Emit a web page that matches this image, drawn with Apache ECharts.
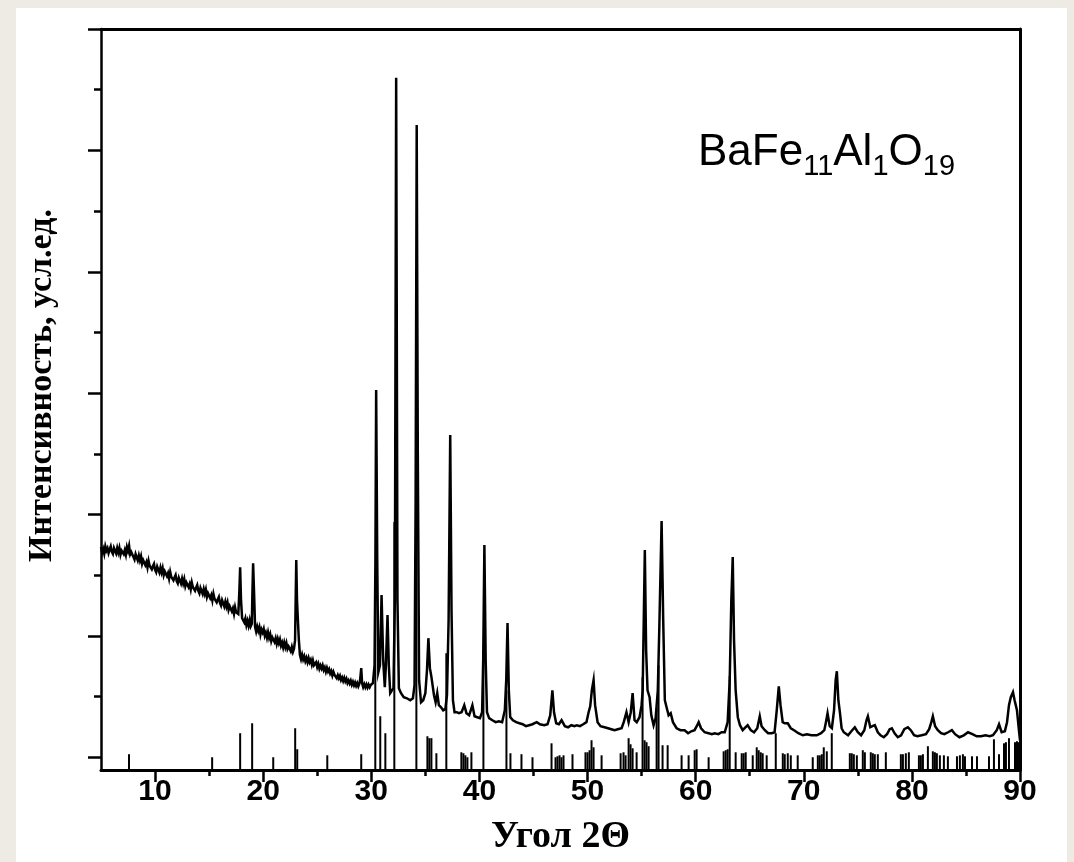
<!DOCTYPE html>
<html>
<head>
<meta charset="utf-8">
<script src="https://cdn.jsdelivr.net/npm/echarts@6/dist/echarts.min.js"></script>
<style>
html,body{margin:0;padding:0;background:#eeebe4;}
#panel{position:absolute;left:16px;top:8px;width:1051px;height:854px;background:#ffffff;}
#c{position:absolute;left:0;top:0;width:1074px;height:862px;}
</style>
</head>
<body>
<div id="panel"></div>
<div id="c"></div>
<script>
// ---------- data (arbitrary intensity units, one major y tick = 1000) ----------
const X_MIN = 5, X_MAX = 90;
const Y_MIN = -105, Y_MAX = 6000;

const xMajorTicks = [10, 20, 30, 40, 50, 60, 70, 80, 90];
const xMinorTicks = [15, 25, 35, 45, 55, 65, 75, 85];
const yMajorTicks = [0, 1000, 2000, 3000, 4000, 5000, 6000];
const yMinorTicks = [500, 1500, 2500, 3500, 4500, 5500];

// measured pattern, 5–30° (noisy amorphous background)
const scanLow = [
[5.0,1732],[5.1,1687],[5.2,1717],[5.3,1677],[5.4,1737],[5.5,1702],[5.6,1722],[5.7,1682],[5.8,1712],[5.9,1737],
[6.0,1692],[6.1,1675],[6.2,1724],[6.3,1702],[6.4,1680],[6.5,1724],[6.6,1687],[6.7,1725],[6.8,1669],[6.9,1702],
[7.0,1715],[7.1,1673],[7.2,1706],[7.3,1668],[7.4,1731],[7.5,1699],[7.6,1742],[7.7,1672],[7.8,1691],[7.9,1706],
[8.0,1650],[8.1,1629],[8.2,1674],[8.3,1648],[8.4,1622],[8.5,1662],[8.6,1621],[8.7,1655],[8.8,1594],[8.9,1624],
[9.0,1633],[9.1,1583],[9.2,1608],[9.3,1563],[9.4,1618],[9.5,1578],[9.6,1593],[9.7,1548],[9.8,1573],[9.9,1593],
[10.0,1543],[10.1,1524],[10.2,1570],[10.3,1546],[10.4,1522],[10.5,1563],[10.6,1523],[10.7,1559],[10.8,1500],[10.9,1531],
[11.0,1542],[11.1,1492],[11.2,1517],[11.3,1472],[11.4,1527],[11.5,1487],[11.6,1502],[11.7,1457],[11.8,1482],[11.9,1502],
[12.0,1452],[12.1,1433],[12.2,1479],[12.3,1455],[12.4,1431],[12.5,1472],[12.6,1432],[12.7,1468],[12.8,1409],[12.9,1440],
[13.0,1451],[13.1,1402],[13.2,1428],[13.3,1384],[13.4,1440],[13.5,1401],[13.6,1416],[13.7,1372],[13.8,1398],[13.9,1419],
[14.0,1370],[14.1,1350],[14.2,1395],[14.3,1370],[14.4,1345],[14.5,1386],[14.6,1346],[14.7,1381],[14.8,1321],[14.9,1351],
[15.0,1361],[15.1,1311],[15.2,1336],[15.3,1291],[15.4,1346],[15.5,1306],[15.6,1321],[15.7,1276],[15.8,1301],[15.9,1321],
[16.0,1271],[16.1,1250],[16.2,1294],[16.3,1269],[16.4,1243],[16.5,1282],[16.6,1241],[16.7,1275],[16.8,1215],[16.9,1244],
[17.0,1253],[17.1,1202],[17.2,1227],[17.3,1181],[17.4,1236],[17.5,1195],[17.6,1210],[17.7,1180],[17.8,1377],[17.87,1566],
[17.95,1294],[18.05,1146],[18.15,1147],[18.25,1112],[18.35,1143],[18.45,1088],[18.55,1123],[18.65,1084],[18.75,1129],[18.85,1080],
[18.95,1100],[19.0,1336],[19.07,1599],[19.15,1377],[19.25,1075],[19.35,1036],[19.45,1076],[19.55,1041],[19.65,1072],[19.75,1012],
[19.85,1052],[19.95,1028],[20.05,1057],[20.15,1001],[20.25,1026],[20.35,985],[20.45,1029],[20.55,984],[20.65,1013],[20.75,957],
[20.85,987],[20.95,1001],[21.05,950],[21.15,980],[21.25,935],[21.35,975],[21.45,940],[21.55,970],[21.65,920],[21.75,945],
[21.85,905],[21.95,945],[22.05,906],[22.15,941],[22.25,892],[22.35,912],[22.45,923],[22.55,873],[22.65,909],[22.75,869],
[22.85,895],[22.95,965],[23.06,1624],[23.13,1294],[23.2,1154],[23.3,965],[23.4,843],[23.5,809],[23.6,845],[23.7,806],
[23.8,832],[23.9,792],[24.0,818],[24.1,783],[24.2,818],[24.3,783],[24.4,803],[24.5,763],[24.6,798],[24.7,758],
[24.8,773],[24.9,783],[25.0,743],[25.1,769],[25.2,730],[25.3,756],[25.4,732],[25.5,758],[25.6,719],[25.7,740],
[25.8,705],[25.9,736],[26.0,707],[26.1,726],[26.2,690],[26.3,710],[26.4,674],[26.5,703],[26.6,678],[26.7,692],
[26.8,651],[26.9,676],[27.0,650],[27.1,671],[27.2,637],[27.3,657],[27.4,628],[27.5,654],[27.6,625],[27.7,646],
[27.8,612],[27.9,632],[28.0,608],[28.1,631],[28.2,598],[28.3,621],[28.4,593],[28.5,616],[28.6,589],[28.7,611],
[28.8,584],[28.9,606],[28.97,640],[29.07,734],[29.15,610],[29.25,578],[29.35,602],[29.45,576],[29.55,600],[29.65,574],
[29.75,598],[29.85,577],[29.95,596]
];

// measured pattern, 30–60°
const scanMid = [
[30.15,610],[30.3,758],[30.38,1624],[30.45,3026],[30.55,1624],[30.65,701],[30.8,758],[30.95,1336],[31.1,800],[31.25,577],
[31.35,758],[31.5,1171],[31.62,758],[31.75,528],[31.9,536],[32.05,569],[32.18,1294],[32.3,5598],[32.42,1294],[32.55,569],
[32.75,528],[33.0,495],[33.3,486],[33.6,470],[33.85,486],[34.0,594],[34.1,2119],[34.2,5210],[34.3,2531],[34.42,635],
[34.6,453],[34.8,470],[35.0,528],[35.15,717],[35.28,981],[35.42,734],[35.55,668],[35.65,676],[35.8,511],[35.95,453],
[36.1,528],[36.25,429],[36.45,412],[36.65,387],[36.85,396],[37.0,511],[37.15,1129],[37.3,2655],[37.42,1212],[37.55,470],
[37.7,371],[37.9,371],[38.1,363],[38.35,371],[38.6,429],[38.8,363],[39.05,346],[39.2,387],[39.35,429],[39.55,338],
[39.8,330],[40.05,322],[40.25,371],[40.35,800],[40.46,1748],[40.58,800],[40.7,371],[40.9,322],[41.2,305],[41.5,289],
[41.8,297],[42.1,289],[42.35,387],[42.48,635],[42.6,1105],[42.72,552],[42.85,330],[43.1,305],[43.4,289],[43.7,280],
[44.0,272],[44.3,256],[44.6,264],[44.9,272],[45.3,289],[45.6,272],[46.0,264],[46.3,272],[46.55,346],[46.75,552],
[46.9,371],[47.1,280],[47.35,272],[47.6,305],[47.9,256],[48.2,247],[48.5,264],[48.8,256],[49.0,264],[49.3,256],
[49.6,272],[49.9,289],[50.1,371],[50.25,420],[50.4,552],[50.56,635],[50.7,429],[50.93,289],[51.2,256],[51.57,247],
[51.9,239],[52.2,231],[52.5,223],[52.8,231],[53.15,239],[53.35,289],[53.6,371],[53.8,289],[54.0,371],[54.17,528],
[54.35,305],[54.55,289],[54.81,330],[55.0,429],[55.1,552],[55.2,1129],[55.3,1707],[55.42,882],[55.55,552],[55.74,495],
[55.9,346],[56.11,264],[56.3,322],[56.5,552],[56.65,1105],[56.85,1946],[57.0,1129],[57.15,470],[57.31,412],[57.5,346],
[57.69,363],[57.9,289],[58.24,239],[58.6,223],[58.98,223],[59.3,198],[59.6,214],[59.9,223]
];

// measured pattern, 60–90°
const scanHigh = [
[60.1,256],[60.28,289],[60.5,239],[60.83,206],[61.2,198],[61.5,190],[61.76,198],[62.1,190],[62.4,206],[62.69,206],
[62.96,289],[63.15,635],[63.3,1294],[63.43,1649],[63.55,965],[63.7,552],[63.9,330],[64.1,264],[64.35,223],[64.6,247],
[64.81,264],[65.1,223],[65.4,206],[65.7,239],[65.93,338],[66.1,256],[66.4,223],[66.7,198],[67.04,198],[67.3,206],
[67.5,387],[67.69,585],[67.85,429],[68.05,289],[68.24,280],[68.52,280],[68.8,239],[69.1,223],[69.5,198],[69.91,181],
[70.3,190],[70.7,181],[71.2,181],[71.6,198],[71.9,223],[72.05,289],[72.2,363],[72.4,256],[72.6,239],[72.8,387],
[72.95,635],[73.06,709],[73.2,470],[73.35,363],[73.5,239],[73.7,206],[74.1,181],[74.4,214],[74.72,247],[75.0,206],
[75.3,181],[75.6,223],[75.8,305],[75.93,338],[76.15,247],[76.35,256],[76.57,264],[76.85,206],[77.1,181],[77.4,165],
[77.7,190],[77.95,231],[78.15,239],[78.4,198],[78.7,165],[79.0,181],[79.3,231],[79.63,247],[79.9,223],[80.2,181],
[80.5,173],[80.9,181],[81.3,190],[81.6,231],[81.8,289],[81.94,338],[82.15,256],[82.4,223],[82.7,198],[83.0,190],
[83.35,206],[83.7,223],[84.0,190],[84.4,165],[84.8,181],[85.19,206],[85.6,190],[86.0,173],[86.4,173],[86.8,181],
[87.2,173],[87.5,181],[87.85,223],[88.06,272],[88.3,206],[88.6,214],[88.8,289],[88.98,429],[89.15,495],[89.35,536],
[89.5,470],[89.72,387],[89.9,223],[90.0,140]
];

// reference (stick) pattern: positions and heights
const stickAngles = [7.59,15.28,17.87,18.98,20.93,22.96,23.15,25.93,29.07,30.37,30.83,31.3,32.13,34.17,35.19,35.37,35.56,36.02,36.94,38.33,38.52,38.7,38.89,39.26,40.37,42.5,42.87,43.89,44.91,46.67,47.04,47.22,47.41,47.59,47.78,48.61,49.81,50.0,50.19,50.37,50.56,51.3,53.06,53.33,53.52,53.8,53.98,54.17,54.54,55.09,55.28,55.46,55.65,56.39,56.57,56.94,57.41,58.7,59.35,59.91,60.09,61.2,62.59,62.78,62.96,63.15,63.7,64.26,64.44,64.63,65.28,65.65,65.83,66.02,66.2,66.57,67.41,68.06,68.24,68.52,68.8,69.44,70.83,71.3,71.48,71.67,71.85,72.13,72.59,74.26,74.44,74.63,74.91,75.46,75.65,76.2,76.39,76.57,76.85,77.59,78.98,79.17,79.44,79.72,80.65,80.83,81.02,81.48,81.94,82.13,82.31,82.59,82.96,83.33,84.17,84.44,84.72,84.91,85.56,86.02,87.13,87.59,88.06,88.52,88.7,88.98,89.54,89.72,89.91];
const stickHeights = [25,0,198,280,0,239,66,16,25,1500,338,198,1937,2160,173,157,157,33,857,41,33,16,0,41,882,552,33,25,0,115,0,8,16,0,16,25,41,41,58,140,82,16,33,41,16,157,107,74,41,660,140,124,91,404,758,99,99,16,16,58,66,0,49,58,66,668,41,33,33,41,16,82,58,41,33,16,198,33,25,33,16,16,0,16,16,25,82,49,198,33,33,25,16,58,41,41,33,25,25,41,25,25,33,41,16,16,25,91,49,41,33,16,16,8,8,16,25,8,8,8,8,148,25,115,124,157,124,132,124];

// ---------- chart ----------
const scan = scanLow.concat(scanMid, scanHigh);
const nSticks = Math.min(stickAngles.length, stickHeights.length);
const sticks = [];
for (let i = 0; i < nSticks; i++) sticks.push([stickAngles[i], stickHeights[i]]);

const BLACK = '#000000';
const serif = "'Liberation Serif', 'Times New Roman', serif";
const sans = "'Liberation Sans', Arial, sans-serif";

const chart = echarts.init(document.getElementById('c'), null, { renderer: 'canvas' });

const option = {
  animation: false,
  backgroundColor: 'transparent',
  grid: { left: 101, right: 54, top: 29, bottom: 92, containLabel: false },
  graphic: [{
    type: 'text',
    left: 698,
    top: 131,
    silent: true,
    style: {
      text: '{m|BaFe}{s|11}{m|Al}{s|1}{m|O}{s|19}',
      rich: {
        m: { fontFamily: sans, fontSize: 44, fill: BLACK, color: BLACK, verticalAlign: 'top' },
        s: { fontFamily: sans, fontSize: 29, fill: BLACK, color: BLACK, verticalAlign: 'top', padding: [21, 0, 0, 0] }
      }
    }
  }],
  xAxis: [
    {
      type: 'value', min: X_MIN, max: X_MAX, position: 'bottom', gridIndex: 0,
      axisLine: { show: true, onZero: false, lineStyle: { color: BLACK, width: 3 } },
      axisTick: { show: true, inside: false, length: 12, customValues: xMajorTicks, lineStyle: { color: BLACK, width: 2.5 } },
      axisLabel: { show: true, customValues: xMajorTicks, margin: 7, color: BLACK, fontFamily: sans, fontWeight: 'bold', fontSize: 30 },
      splitLine: { show: false },
      name: 'Угол 2Θ', nameLocation: 'middle', nameGap: 48,
      nameTextStyle: { color: BLACK, fontFamily: serif, fontWeight: 'bold', fontSize: 38 }
    },
    {
      type: 'value', min: X_MIN, max: X_MAX, position: 'bottom', offset: 0, gridIndex: 0,
      axisLine: { show: false, onZero: false },
      axisTick: { show: true, inside: false, length: 6, customValues: xMinorTicks, lineStyle: { color: BLACK, width: 2.5 } },
      axisLabel: { show: false },
      splitLine: { show: false }
    },
    {
      type: 'value', min: X_MIN, max: X_MAX, position: 'top', offset: 0, gridIndex: 0,
      axisLine: { show: true, onZero: false, lineStyle: { color: BLACK, width: 3 } },
      axisTick: { show: false }, axisLabel: { show: false }, splitLine: { show: false }
    }
  ],
  yAxis: [
    {
      type: 'value', min: Y_MIN, max: Y_MAX, position: 'left', gridIndex: 0,
      axisLine: { show: true, onZero: false, lineStyle: { color: BLACK, width: 2.5 } },
      axisTick: { show: true, inside: false, length: 13, customValues: yMajorTicks, lineStyle: { color: BLACK, width: 2.5 } },
      axisLabel: { show: false },
      splitLine: { show: false },
      name: 'Интенсивность, усл.ед.', nameLocation: 'middle', nameGap: 42,
      nameTextStyle: { color: BLACK, fontFamily: serif, fontWeight: 'bold', fontSize: 34, padding: [0, 0, 0, 28] }
    },
    {
      type: 'value', min: Y_MIN, max: Y_MAX, position: 'left', offset: 0, gridIndex: 0,
      axisLine: { show: false, onZero: false },
      axisTick: { show: true, inside: false, length: 7, customValues: yMinorTicks, lineStyle: { color: BLACK, width: 2.5 } },
      axisLabel: { show: false },
      splitLine: { show: false }
    },
    {
      type: 'value', min: Y_MIN, max: Y_MAX, position: 'right', offset: 0, gridIndex: 0,
      axisLine: { show: true, onZero: false, lineStyle: { color: BLACK, width: 3 } },
      axisTick: { show: false }, axisLabel: { show: false }, splitLine: { show: false }
    }
  ],
  series: [
    {
      type: 'custom',
      name: 'reference',
      xAxisIndex: 0, yAxisIndex: 0,
      data: sticks,
      encode: { x: 0, y: 1 },
      z: 2,
      silent: true,
      renderItem: function (params, api) {
        const x = api.value(0);
        const h = api.value(1);
        const p0 = api.coord([x, Y_MIN]);
        const p1 = api.coord([x, h]);
        return {
          type: 'line',
          shape: { x1: p0[0], y1: p0[1], x2: p1[0], y2: p1[1] },
          style: { stroke: BLACK, lineWidth: 2 }
        };
      }
    },
    {
      type: 'line',
      name: 'BaFe11Al1O19',
      xAxisIndex: 0, yAxisIndex: 0,
      data: scan,
      showSymbol: false,
      symbol: 'none',
      smooth: false,
      z: 3,
      silent: true,
      lineStyle: { color: BLACK, width: 2.5, join: 'miter' }
    }
  ]
};
chart.setOption(option);
</script>
</body>
</html>
